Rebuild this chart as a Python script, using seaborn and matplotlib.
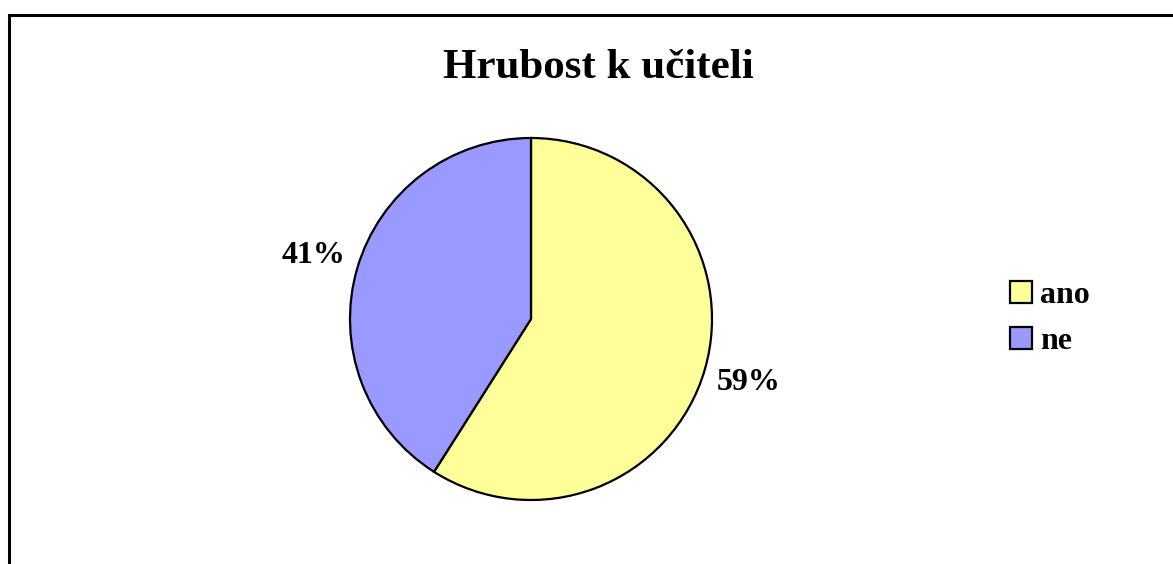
import matplotlib
matplotlib.use("Agg")
import matplotlib.pyplot as plt
import seaborn as sns
from matplotlib.patches import Rectangle

categories = ["ano", "ne"]
values = [59, 41]
colors = ["#FFFF99", "#9999FF"]
title = "Hrubost k učiteli"

sns.set_style("white")
plt.rcParams['font.family'] = ['Liberation Serif', 'DejaVu Serif']
plt.rcParams['text.color'] = 'black'

W, H = 1173, 564
fig = plt.figure(figsize=(W / 100, H / 100), dpi=100)
fig.patch.set_facecolor("white")

# outer chart border (top and left visible, extends past right/bottom)
fig.patches.append(Rectangle((9 / W, -0.1), 1.2, 1 - 15 / H + 0.1,
                             transform=fig.transFigure, fill=False,
                             edgecolor="black", linewidth=2.2, zorder=0))

cx, cy, r, h = 531, 319, 181, 240
ax = fig.add_axes([(cx - h) / W, (H - cy - h) / H, 2 * h / W, 2 * h / H])
lim = h / r
wedges, texts, autotexts = ax.pie(
    values, colors=colors, startangle=90, counterclock=False,
    autopct=lambda p: f"{p:.0f}%", pctdistance=1.25,
    wedgeprops=dict(edgecolor="black", linewidth=1.6),
    textprops=dict(fontsize=23, fontweight="bold", color="black"))
ax.set_xlim(-lim, lim)
ax.set_ylim(-lim, lim)
ax.set_aspect("equal")
ax.axis("off")

fig.text(598 / W, 1 - 78 / H, title, ha="center", va="baseline",
         fontsize=31, fontweight="bold", color="black")

leg = fig.legend(wedges, categories, loc="upper left",
                 bbox_to_anchor=(997 / W, 1 - 268 / H),
                 frameon=False, prop=dict(size=23, weight="bold"),
                 handlelength=0.7, handleheight=0.7, handletextpad=0.25,
                 labelspacing=0.52, borderaxespad=0)
for t in leg.get_texts():
    t.set_color("black")

fig.savefig("out.png", dpi=100, facecolor="white")
